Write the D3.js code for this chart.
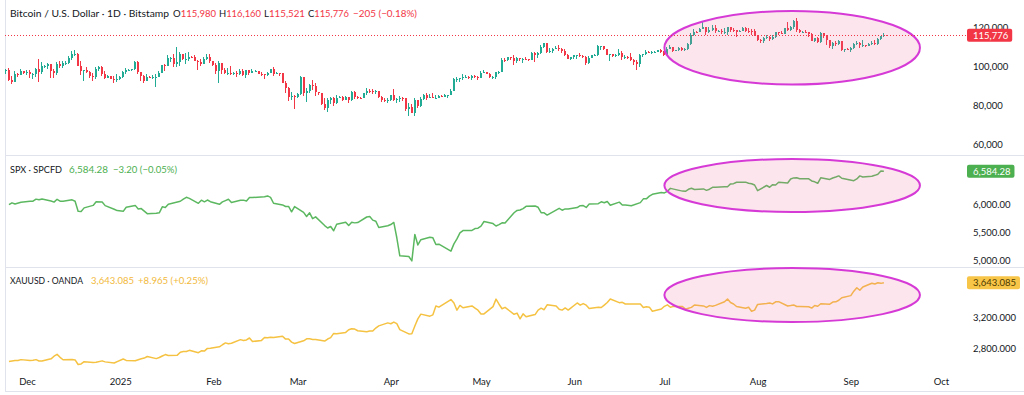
<!DOCTYPE html>
<html>
<head>
<meta charset="utf-8">
<script src="https://cdn.jsdelivr.net/npm/d3@7"></script>
<style>
  html, body { margin: 0; padding: 0; background: #fff; }
  svg { display: block; font-family: Lato, "Open Sans", sans-serif; }
</style>
</head>
<body>
<div class="chart"></div>
<script>
// DATA
// Bitcoin daily candles (thousands of USD), one per day from btcStart.
// Open of each candle is the previous close; last candle is given in full.
const btcStart = "2024-11-24";
const btcFirstOpen = 97.7;
const btcClose = [
  98.0, 93.0, 91.9, 95.9, 95.6, 97.4, 96.4,
  97.2, 95.8, 96.0, 98.8, 97.0, 99.9, 99.9, 101.1, 97.4, 96.6, 101.1, 100.0, 101.4, 101.4, 104.4, 106.1, 106.1, 100.2, 97.5, 97.8, 97.2, 95.1, 94.7, 98.6, 99.4, 95.8, 94.2, 95.1, 93.7, 92.8, 93.4,
  94.4, 96.9, 98.1, 98.2, 98.3, 102.1, 96.9, 95.0, 92.5, 94.7, 94.5, 94.5, 94.5, 96.5, 100.5, 99.9, 104.1, 104.4, 101.1, 102.0, 106.1, 103.6, 103.9, 104.8, 104.7, 102.6, 102.0, 101.3, 103.7, 104.7, 102.4,
  100.6, 97.7, 101.4, 97.8, 96.6, 96.6, 96.5, 96.5, 96.1, 97.4, 95.7, 97.8, 96.6, 97.5, 97.6, 96.1, 95.8, 95.5, 96.6, 98.3, 96.1, 96.6, 96.3, 91.4, 88.7, 84.3, 84.7, 84.4,
  86.0, 94.3, 86.1, 87.2, 90.6, 89.9, 86.7, 86.1, 80.7, 78.5, 82.9, 83.7, 81.1, 84.0, 84.4, 82.6, 84.1, 82.7, 86.9, 84.2, 84.0, 83.8, 86.1, 87.5, 87.4, 86.9, 87.2, 84.4, 82.6, 82.3, 82.5,
  85.2, 82.5, 83.1, 83.8, 83.5, 78.3, 79.2, 76.3, 82.6, 79.6, 83.4, 85.3, 83.8, 84.5, 83.7, 84.0, 84.9, 84.5, 85.1, 85.2, 87.5, 93.4, 93.7, 93.9, 94.6, 94.6, 93.8, 94.9, 94.3, 94.2,
  96.5, 96.9, 95.9, 94.3, 94.7, 96.8, 97.0, 103.2, 102.9, 104.6, 104.1, 102.8, 104.2, 103.5, 103.8, 103.5, 103.2, 106.5, 105.6, 106.8, 109.7, 111.7, 107.3, 107.8, 109.0, 109.4, 108.9, 107.8, 105.6, 103.9, 104.6,
  105.7, 105.8, 105.4, 104.7, 101.5, 104.3, 105.6, 105.7, 110.3, 110.3, 108.7, 105.9, 106.1, 105.4, 105.6, 106.8, 104.6, 104.9, 104.7, 103.3, 102.2, 100.9, 105.5, 106.0, 107.3, 106.9, 107.1, 107.4, 108.4, 107.1,
  105.7, 108.8, 109.6, 108.0, 108.2, 109.2, 108.2, 108.9, 111.3, 115.9, 117.5, 117.4, 119.1, 119.8, 117.7, 118.7, 119.3, 117.9, 117.9, 117.3, 117.4, 119.9, 118.7, 118.3, 117.6, 117.9, 119.4, 118.0, 117.9, 117.8, 115.8,
  113.3, 112.6, 114.2, 115.1, 114.1, 115.0, 117.5, 116.7, 116.5, 119.3, 118.7, 120.1, 123.3, 118.4, 117.4, 117.5, 117.4, 116.3, 112.9, 114.3, 112.5, 116.9, 115.4, 113.5, 110.1, 111.8, 111.3, 112.6, 108.4, 108.8, 108.2,
  109.2, 111.2, 111.7, 110.7, 110.7, 110.2, 111.1, 112.0, 111.5, 113.9, 115.5, 115.981
];
const btcHigh = [
  98.6, 98.9, 94.8, 97.3, 96.6, 98.7, 97.5,
  98.0, 98.2, 96.3, 99.0, 103.6, 101.9, 100.5, 101.4, 101.2, 98.3, 101.9, 102.5, 102.6, 102.7, 105.2, 107.8, 108.3, 106.5, 102.8, 98.2, 99.5, 97.4, 96.4, 99.4, 99.9, 99.9, 97.3, 95.5, 95.2, 94.9, 96.1,
  94.9, 97.7, 98.9, 98.7, 98.8, 102.5, 102.7, 97.2, 95.3, 95.8, 94.9, 95.3, 95.9, 97.4, 100.7, 100.9, 105.8, 104.9, 106.3, 109.6, 107.1, 106.3, 106.8, 107.1, 105.3, 105.5, 103.1, 103.7, 104.8, 106.4, 106.0,
  102.8, 101.5, 102.5, 101.7, 99.0, 99.2, 100.1, 96.9, 97.3, 98.3, 98.5, 98.1, 98.0, 98.8, 97.9, 97.7, 97.0, 96.0, 96.9, 98.7, 99.5, 96.9, 96.5, 96.5, 92.5, 89.3, 87.0, 85.1,
  86.5, 95.0, 94.4, 88.9, 91.0, 92.8, 91.3, 86.9, 86.5, 83.9, 83.6, 84.4, 84.3, 85.3, 84.7, 85.0, 84.8, 84.0, 87.4, 87.4, 84.8, 84.5, 86.1, 88.8, 88.5, 88.3, 87.8, 87.5, 84.6, 83.5, 83.9,
  85.5, 88.5, 83.9, 84.7, 84.2, 83.7, 81.2, 80.8, 83.5, 82.7, 84.3, 85.9, 86.1, 85.8, 86.4, 85.5, 85.5, 85.1, 85.6, 85.3, 88.5, 93.8, 94.7, 94.0, 95.8, 95.3, 95.2, 95.6, 95.5, 95.2,
  97.4, 97.9, 96.9, 96.3, 95.2, 96.9, 97.7, 104.0, 104.3, 104.9, 104.9, 105.8, 104.9, 104.3, 104.1, 104.5, 103.7, 107.1, 107.1, 107.3, 110.8, 111.9, 111.8, 109.5, 109.3, 110.4, 110.7, 109.3, 108.9, 106.3, 104.9,
  105.9, 105.9, 106.8, 105.9, 105.0, 105.3, 105.9, 106.4, 110.6, 110.4, 110.4, 108.8, 106.2, 106.2, 106.0, 108.9, 107.8, 105.6, 105.2, 106.5, 103.9, 103.0, 106.0, 106.3, 108.1, 108.0, 107.8, 107.5, 108.5, 108.8,
  107.5, 109.8, 110.6, 109.8, 108.4, 109.7, 109.7, 109.2, 111.9, 116.8, 118.9, 118.0, 119.5, 123.2, 119.9, 119.9, 120.9, 120.8, 118.6, 118.9, 119.7, 120.2, 120.1, 119.5, 118.4, 118.5, 119.8, 119.9, 119.3, 118.8, 118.9,
  116.1, 114.0, 114.8, 115.7, 115.2, 115.7, 117.7, 117.7, 117.9, 119.3, 122.3, 120.3, 123.7, 124.5, 119.2, 117.9, 118.6, 117.6, 117.0, 114.6, 114.8, 117.4, 117.0, 115.8, 113.6, 112.4, 112.6, 113.4, 112.7, 108.9, 109.5,
  109.9, 111.8, 112.6, 112.2, 113.4, 110.8, 111.6, 112.9, 113.2, 114.3, 115.6, 116.8
];
const btcLow = [
  95.8, 92.6, 90.8, 91.8, 94.7, 95.4, 96.0,
  95.7, 94.2, 93.6, 94.6, 92.1, 95.9, 99.0, 98.8, 94.2, 94.2, 95.7, 99.3, 99.2, 100.6, 101.2, 103.3, 105.3, 100.0, 95.7, 92.2, 96.4, 94.2, 92.4, 93.4, 97.6, 95.2, 93.4, 94.1, 93.3, 91.4, 92.0,
  92.8, 94.2, 96.0, 97.5, 97.3, 97.9, 96.2, 92.5, 91.2, 92.2, 93.8, 93.7, 89.2, 94.3, 96.5, 97.3, 99.9, 102.3, 99.6, 99.6, 100.1, 103.3, 101.2, 102.8, 104.1, 102.5, 97.8, 100.3, 101.3, 103.3, 101.6,
  100.3, 96.2, 91.2, 96.2, 96.2, 95.7, 95.7, 95.7, 94.7, 95.3, 94.9, 94.1, 95.3, 96.3, 97.2, 96.0, 95.2, 93.4, 95.2, 96.4, 94.9, 96.1, 95.2, 91.2, 86.1, 82.3, 82.8, 78.2,
  83.8, 85.1, 85.0, 81.5, 86.3, 87.8, 84.7, 85.3, 80.1, 77.5, 76.6, 80.7, 79.9, 80.8, 83.6, 82.0, 82.5, 81.1, 82.3, 83.2, 83.2, 83.6, 83.8, 85.5, 86.3, 85.9, 85.9, 83.6, 81.6, 81.6, 81.3,
  82.4, 82.3, 81.2, 81.7, 82.4, 77.2, 74.5, 76.2, 74.6, 78.4, 78.9, 82.8, 82.7, 83.8, 83.6, 83.1, 83.9, 84.3, 84.4, 83.9, 85.1, 87.6, 91.9, 91.7, 92.9, 93.9, 93.6, 92.9, 93.8, 92.9,
  94.1, 96.3, 95.8, 94.1, 93.5, 93.4, 95.8, 96.9, 102.3, 102.8, 103.3, 100.8, 101.4, 102.6, 101.4, 103.1, 102.6, 103.1, 102.0, 104.2, 106.1, 109.3, 106.8, 106.9, 106.6, 108.7, 107.6, 106.8, 105.4, 103.6, 103.1,
  103.8, 103.7, 104.9, 104.2, 100.4, 101.1, 104.0, 105.0, 105.3, 108.4, 108.1, 105.7, 102.8, 104.5, 104.5, 105.4, 103.4, 103.5, 103.9, 102.4, 100.8, 98.2, 99.6, 104.7, 105.9, 106.5, 106.4, 106.9, 107.2, 106.8,
  105.3, 105.7, 108.6, 107.3, 107.8, 107.8, 107.5, 107.5, 108.4, 110.6, 115.3, 116.9, 117.3, 118.9, 115.7, 117.0, 117.9, 116.8, 117.3, 116.5, 116.5, 116.1, 117.4, 117.2, 114.7, 117.4, 117.8, 117.5, 116.9, 115.8, 115.6,
  112.7, 112.0, 112.0, 114.0, 112.7, 113.4, 114.3, 115.9, 116.3, 116.5, 118.1, 118.2, 118.9, 117.2, 116.8, 117.2, 117.3, 114.7, 112.7, 112.4, 111.9, 111.7, 114.6, 110.6, 109.3, 108.7, 110.4, 110.9, 107.5, 107.4, 108.1,
  107.3, 108.6, 110.6, 109.3, 110.0, 109.9, 110.2, 110.6, 110.8, 110.9, 113.4, 114.8
];
// last (live) candle: open, high, low, close
const btcLast = [115.980, 116.160, 115.521, 115.776];

// S&P 500 CFD daily closes
const spx = [
  ["2024-11-25", 5987], ["2024-11-26", 6021], ["2024-11-27", 5999], ["2024-11-29", 6032],
  ["2024-12-02", 6047], ["2024-12-03", 6050], ["2024-12-04", 6087], ["2024-12-05", 6075], ["2024-12-06", 6090],
  ["2024-12-09", 6053], ["2024-12-10", 6034], ["2024-12-11", 6084], ["2024-12-12", 6051], ["2024-12-13", 6051],
  ["2024-12-16", 6074], ["2024-12-17", 6050], ["2024-12-18", 5872], ["2024-12-19", 5867], ["2024-12-20", 5931],
  ["2024-12-23", 5975], ["2024-12-24", 6040], ["2024-12-26", 6037], ["2024-12-27", 5971], ["2024-12-30", 5907], ["2024-12-31", 5882],
  ["2025-01-02", 5869], ["2025-01-03", 5942], ["2025-01-06", 5975], ["2025-01-07", 5909], ["2025-01-08", 5918], ["2025-01-10", 5827],
  ["2025-01-13", 5836], ["2025-01-14", 5843], ["2025-01-15", 5950], ["2025-01-16", 5937], ["2025-01-17", 5997],
  ["2025-01-21", 6049], ["2025-01-22", 6086], ["2025-01-23", 6119], ["2025-01-24", 6101],
  ["2025-01-27", 6012], ["2025-01-28", 6068], ["2025-01-29", 6039], ["2025-01-30", 6071], ["2025-01-31", 6041],
  ["2025-02-03", 5994], ["2025-02-04", 6037], ["2025-02-05", 6061], ["2025-02-06", 6084], ["2025-02-07", 6026],
  ["2025-02-10", 6066], ["2025-02-11", 6069], ["2025-02-12", 6052], ["2025-02-13", 6115], ["2025-02-14", 6115],
  ["2025-02-18", 6129], ["2025-02-19", 6144], ["2025-02-20", 6118], ["2025-02-21", 6013],
  ["2025-02-24", 5983], ["2025-02-25", 5955], ["2025-02-26", 5956], ["2025-02-27", 5861], ["2025-02-28", 5955],
  ["2025-03-03", 5850], ["2025-03-04", 5778], ["2025-03-05", 5843], ["2025-03-06", 5739], ["2025-03-07", 5770],
  ["2025-03-10", 5615], ["2025-03-11", 5572], ["2025-03-12", 5599], ["2025-03-13", 5522], ["2025-03-14", 5639],
  ["2025-03-17", 5675], ["2025-03-18", 5615], ["2025-03-19", 5675], ["2025-03-20", 5663], ["2025-03-21", 5668],
  ["2025-03-24", 5768], ["2025-03-25", 5777], ["2025-03-26", 5712], ["2025-03-27", 5693], ["2025-03-28", 5581], ["2025-03-31", 5612],
  ["2025-04-01", 5633], ["2025-04-02", 5671], ["2025-04-03", 5397], ["2025-04-04", 5074],
  ["2025-04-07", 5062], ["2025-04-08", 4983], ["2025-04-09", 5457], ["2025-04-10", 5268], ["2025-04-11", 5363],
  ["2025-04-14", 5406], ["2025-04-15", 5396], ["2025-04-16", 5276], ["2025-04-17", 5283],
  ["2025-04-21", 5158], ["2025-04-22", 5288], ["2025-04-23", 5376], ["2025-04-24", 5485], ["2025-04-25", 5525],
  ["2025-04-28", 5529], ["2025-04-29", 5561], ["2025-04-30", 5569], ["2025-05-01", 5604], ["2025-05-02", 5687],
  ["2025-05-05", 5650], ["2025-05-06", 5607], ["2025-05-07", 5631], ["2025-05-08", 5664], ["2025-05-09", 5660],
  ["2025-05-12", 5844], ["2025-05-13", 5886], ["2025-05-14", 5892], ["2025-05-15", 5917], ["2025-05-16", 5958],
  ["2025-05-19", 5964], ["2025-05-20", 5941], ["2025-05-21", 5845], ["2025-05-22", 5842], ["2025-05-23", 5803],
  ["2025-05-27", 5922], ["2025-05-28", 5889], ["2025-05-29", 5912], ["2025-05-30", 5912],
  ["2025-06-02", 5936], ["2025-06-03", 5970], ["2025-06-04", 5971], ["2025-06-05", 5939], ["2025-06-06", 6000],
  ["2025-06-09", 6006], ["2025-06-10", 6039], ["2025-06-11", 6022], ["2025-06-12", 6045], ["2025-06-13", 5977],
  ["2025-06-16", 6033], ["2025-06-17", 5983], ["2025-06-18", 5981], ["2025-06-20", 5968],
  ["2025-06-23", 6025], ["2025-06-24", 6092], ["2025-06-25", 6092], ["2025-06-26", 6141], ["2025-06-27", 6173], ["2025-06-30", 6205],
  ["2025-07-01", 6198], ["2025-07-02", 6227], ["2025-07-03", 6279],
  ["2025-07-07", 6230], ["2025-07-08", 6226], ["2025-07-09", 6263], ["2025-07-10", 6280], ["2025-07-11", 6260],
  ["2025-07-14", 6269], ["2025-07-15", 6244], ["2025-07-16", 6264], ["2025-07-17", 6297], ["2025-07-18", 6297],
  ["2025-07-21", 6306], ["2025-07-22", 6309], ["2025-07-23", 6359], ["2025-07-24", 6363], ["2025-07-25", 6389],
  ["2025-07-28", 6390], ["2025-07-29", 6371], ["2025-07-30", 6362], ["2025-07-31", 6339], ["2025-08-01", 6238],
  ["2025-08-04", 6330], ["2025-08-05", 6299], ["2025-08-06", 6345], ["2025-08-07", 6340], ["2025-08-08", 6389],
  ["2025-08-11", 6374], ["2025-08-12", 6446], ["2025-08-13", 6466], ["2025-08-14", 6469], ["2025-08-15", 6450],
  ["2025-08-18", 6449], ["2025-08-19", 6411], ["2025-08-20", 6396], ["2025-08-21", 6370], ["2025-08-22", 6467],
  ["2025-08-25", 6439], ["2025-08-26", 6465], ["2025-08-27", 6481], ["2025-08-28", 6502], ["2025-08-29", 6460],
  ["2025-09-02", 6416], ["2025-09-03", 6448], ["2025-09-04", 6502], ["2025-09-05", 6482],
  ["2025-09-08", 6495], ["2025-09-09", 6512], ["2025-09-10", 6532], ["2025-09-11", 6587.48], ["2025-09-12", 6584.28]
];

// Gold spot (XAUUSD) daily closes
const xau = [
  ["2024-11-25", 2625], ["2024-11-26", 2633], ["2024-11-27", 2638], ["2024-11-28", 2640], ["2024-11-29", 2650],
  ["2024-12-02", 2640], ["2024-12-03", 2643], ["2024-12-04", 2650], ["2024-12-05", 2632], ["2024-12-06", 2633],
  ["2024-12-09", 2660], ["2024-12-10", 2694], ["2024-12-11", 2718], ["2024-12-12", 2680], ["2024-12-13", 2648],
  ["2024-12-16", 2652], ["2024-12-17", 2646], ["2024-12-18", 2587], ["2024-12-19", 2594], ["2024-12-20", 2623],
  ["2024-12-23", 2612], ["2024-12-24", 2617], ["2024-12-26", 2634], ["2024-12-27", 2621], ["2024-12-30", 2606], ["2024-12-31", 2624],
  ["2025-01-02", 2658], ["2025-01-03", 2640], ["2025-01-06", 2635], ["2025-01-07", 2648], ["2025-01-08", 2661], ["2025-01-09", 2670], ["2025-01-10", 2690],
  ["2025-01-13", 2663], ["2025-01-14", 2677], ["2025-01-15", 2697], ["2025-01-16", 2715], ["2025-01-17", 2703],
  ["2025-01-20", 2708], ["2025-01-21", 2745], ["2025-01-22", 2755], ["2025-01-23", 2755], ["2025-01-24", 2770],
  ["2025-01-27", 2740], ["2025-01-28", 2763], ["2025-01-29", 2760], ["2025-01-30", 2795], ["2025-01-31", 2798],
  ["2025-02-03", 2815], ["2025-02-04", 2842], ["2025-02-05", 2866], ["2025-02-06", 2856], ["2025-02-07", 2861],
  ["2025-02-10", 2908], ["2025-02-11", 2898], ["2025-02-12", 2904], ["2025-02-13", 2929], ["2025-02-14", 2883],
  ["2025-02-17", 2898], ["2025-02-18", 2935], ["2025-02-19", 2933], ["2025-02-20", 2939], ["2025-02-21", 2936],
  ["2025-02-24", 2951], ["2025-02-25", 2915], ["2025-02-26", 2916], ["2025-02-27", 2876], ["2025-02-28", 2858],
  ["2025-03-03", 2893], ["2025-03-04", 2918], ["2025-03-05", 2920], ["2025-03-06", 2911], ["2025-03-07", 2910],
  ["2025-03-10", 2889], ["2025-03-11", 2916], ["2025-03-12", 2934], ["2025-03-13", 2988], ["2025-03-14", 2984],
  ["2025-03-17", 3001], ["2025-03-18", 3035], ["2025-03-19", 3048], ["2025-03-20", 3044], ["2025-03-21", 3023],
  ["2025-03-24", 3011], ["2025-03-25", 3020], ["2025-03-26", 3019], ["2025-03-27", 3057], ["2025-03-28", 3085], ["2025-03-31", 3124],
  ["2025-04-01", 3113], ["2025-04-02", 3134], ["2025-04-03", 3114], ["2025-04-04", 3038],
  ["2025-04-07", 2982], ["2025-04-08", 2983], ["2025-04-09", 3083], ["2025-04-10", 3176], ["2025-04-11", 3237],
  ["2025-04-14", 3211], ["2025-04-15", 3228], ["2025-04-16", 3342], ["2025-04-17", 3327],
  ["2025-04-21", 3425], ["2025-04-22", 3381], ["2025-04-23", 3288], ["2025-04-24", 3349], ["2025-04-25", 3319],
  ["2025-04-28", 3343], ["2025-04-29", 3316], ["2025-04-30", 3288], ["2025-05-01", 3239], ["2025-05-02", 3240],
  ["2025-05-05", 3334], ["2025-05-06", 3431], ["2025-05-07", 3365], ["2025-05-08", 3306], ["2025-05-09", 3325],
  ["2025-05-12", 3235], ["2025-05-13", 3250], ["2025-05-14", 3177], ["2025-05-15", 3240], ["2025-05-16", 3203],
  ["2025-05-19", 3231], ["2025-05-20", 3289], ["2025-05-21", 3314], ["2025-05-22", 3294], ["2025-05-23", 3357],
  ["2025-05-26", 3342], ["2025-05-27", 3301], ["2025-05-28", 3289], ["2025-05-29", 3317], ["2025-05-30", 3289],
  ["2025-06-02", 3381], ["2025-06-03", 3353], ["2025-06-04", 3373], ["2025-06-05", 3353], ["2025-06-06", 3311],
  ["2025-06-09", 3326], ["2025-06-10", 3322], ["2025-06-11", 3354], ["2025-06-12", 3387], ["2025-06-13", 3432],
  ["2025-06-16", 3385], ["2025-06-17", 3389], ["2025-06-18", 3368], ["2025-06-19", 3369], ["2025-06-20", 3368],
  ["2025-06-23", 3368], ["2025-06-24", 3323], ["2025-06-25", 3332], ["2025-06-26", 3327], ["2025-06-27", 3274], ["2025-06-30", 3303],
  ["2025-07-01", 3338], ["2025-07-02", 3357], ["2025-07-03", 3326], ["2025-07-04", 3337],
  ["2025-07-07", 3336], ["2025-07-08", 3301], ["2025-07-09", 3313], ["2025-07-10", 3324], ["2025-07-11", 3355],
  ["2025-07-14", 3343], ["2025-07-15", 3324], ["2025-07-16", 3347], ["2025-07-17", 3338], ["2025-07-18", 3350],
  ["2025-07-21", 3397], ["2025-07-22", 3431], ["2025-07-23", 3387], ["2025-07-24", 3368], ["2025-07-25", 3336],
  ["2025-07-28", 3314], ["2025-07-29", 3326], ["2025-07-30", 3275], ["2025-07-31", 3289], ["2025-08-01", 3362],
  ["2025-08-04", 3373], ["2025-08-05", 3381], ["2025-08-06", 3369], ["2025-08-07", 3396], ["2025-08-08", 3398],
  ["2025-08-11", 3342], ["2025-08-12", 3348], ["2025-08-13", 3356], ["2025-08-14", 3336], ["2025-08-15", 3336],
  ["2025-08-18", 3332], ["2025-08-19", 3315], ["2025-08-20", 3348], ["2025-08-21", 3339], ["2025-08-22", 3371],
  ["2025-08-25", 3365], ["2025-08-26", 3393], ["2025-08-27", 3396], ["2025-08-28", 3416], ["2025-08-29", 3448],
  ["2025-09-01", 3476], ["2025-09-02", 3533], ["2025-09-03", 3578], ["2025-09-04", 3545], ["2025-09-05", 3587],
  ["2025-09-08", 3636], ["2025-09-09", 3626], ["2025-09-10", 3641], ["2025-09-11", 3634.12], ["2025-09-12", 3643.085]
];

// Axis ticks
const monthTicks = ["2024-12-01", "2025-01-01", "2025-02-01", "2025-03-01", "2025-04-01", "2025-05-01",
  "2025-06-01", "2025-07-01", "2025-08-01", "2025-09-01", "2025-10-01"];
const monthLabels = ["Dec", "2025", "Feb", "Mar", "Apr", "May", "Jun", "Jul", "Aug", "Sep", "Oct"];
const btcTicks = [60, 80, 100, 120];
const spxTicks = [5000, 5500, 6000];
const xauTicks = [2800, 3200];

// Highlight ellipses: date span and value span per pane
const highlightDates = ["2025-07-01", "2025-09-24"];
const btcHighlight = [90.6, 128.2];
const spxHighlight = [5857, 6804];
const xauHighlight = [3135, 3832];


// SETUP
const width = 1024, height = 395;
const plotLeft = 5, plotRight = 967;
const colors = {
  up: '#22ab94', down: '#f23645', spx: '#5cb860', xau: '#f5c242',
  ring: '#d63ad6', ringFill: '#f06292', border: '#e0e3eb', text: '#131722'
};
// legend layout: [left, width] of each text run, per pane
const legendLayout = {
  btc: [[10, 159], [173, 43], [219, 42], [264, 41], [308, 41], [353, 64]],
  spx: [[10, 52], [69, 39], [113, 64]],
  xau: [[10, 73], [91, 43], [138, 70]]
};
const parse = d3.utcParse('%Y-%m-%d');

const svg = d3.select('.chart')
  .append('svg')
  .attr('width', width)
  .attr('height', height);

const x = d3.scaleUtc()
  .domain([parse('2024-12-01'), parse('2025-10-01')])
  .range([27, 941]);

const yBtc = d3.scaleLinear().domain([60, 120]).range([144.5, 27]);
const ySpx = d3.scaleLinear().domain([5000, 6000]).range([260, 204]);
const yXau = d3.scaleLinear().domain([2800, 3200]).range([348, 317]);

drawFrame();
drawCandles();
drawLine(spx, ySpx, colors.spx);
drawLine(xau, yXau, colors.xau);
drawHighlight(yBtc, btcHighlight);
drawHighlight(ySpx, spxHighlight);
drawHighlight(yXau, xauHighlight);
drawPriceLine();
drawPriceAxis(yBtc, btcTicks, v => d3.format(',')(v * 1000));
drawPriceAxis(ySpx, spxTicks, d3.format(',.2f'));
drawPriceAxis(yXau, xauTicks, d3.format(',.3f'));
drawTimeAxis();
drawLastLabels();
drawLegends();


// FRAME
function drawFrame() {
  const g = svg.append('g').attr('class', 'frame')
    .attr('stroke', colors.border).attr('shape-rendering', 'crispEdges');
  g.append('line').attr('x1', plotLeft + 0.5).attr('x2', plotLeft + 0.5).attr('y1', 0).attr('y2', 392);
  [155.5, 267.5].forEach(yy => {
    g.append('line').attr('x1', plotLeft).attr('x2', width).attr('y1', yy).attr('y2', yy);
  });
  g.append('line').attr('x1', plotLeft).attr('x2', width).attr('y1', 391.5).attr('y2', 391.5);
}

// CANDLES
function btcCandles() {
  const start = parse(btcStart);
  const rows = btcClose.map((c, i) => {
    const o = i ? btcClose[i - 1] : btcFirstOpen;
    return { date: d3.utcDay.offset(start, i), o, c,
      h: Math.max(btcHigh[i], o, c), l: Math.min(btcLow[i], o, c) };
  });
  const [o, h, l, c] = btcLast;
  rows.push({ date: d3.utcDay.offset(start, btcClose.length), o, h, l, c });
  return rows;
}

function drawCandles() {
  const g = svg.append('g').attr('class', 'candles').attr('shape-rendering', 'crispEdges');
  const candle = g.selectAll('g')
    .data(btcCandles())
    .enter()
    .append('g')
    .attr('fill', d => d.c >= d.o ? colors.up : colors.down);

  candle.append('rect')
    .attr('x', d => Math.round(x(d.date)) - 1)
    .attr('width', 1)
    .attr('y', d => Math.round(yBtc(d.h)))
    .attr('height', d => Math.max(1, Math.round(yBtc(d.l)) - Math.round(yBtc(d.h))));

  candle.append('rect')
    .attr('x', d => Math.round(x(d.date)) - 1)
    .attr('width', 2)
    .attr('y', d => Math.round(yBtc(Math.max(d.o, d.c))))
    .attr('height', d => Math.max(1, Math.round(yBtc(Math.min(d.o, d.c))) - Math.round(yBtc(Math.max(d.o, d.c)))));
}

// LINES
function drawLine(series, y, color) {
  const line = d3.line()
    .x(d => x(parse(d[0])))
    .y(d => y(d[1]));
  svg.append('path')
    .datum(series)
    .attr('d', line)
    .attr('fill', 'none')
    .attr('stroke', color)
    .attr('stroke-width', 1.5)
    .attr('stroke-linejoin', 'round');
}

// ANNOTATIONS
function drawHighlight(y, span) {
  const x0 = x(parse(highlightDates[0])), x1 = x(parse(highlightDates[1]));
  const y0 = y(span[0]), y1 = y(span[1]);
  svg.append('ellipse')
    .attr('cx', (x0 + x1) / 2)
    .attr('cy', (y0 + y1) / 2)
    .attr('rx', (x1 - x0) / 2)
    .attr('ry', Math.abs(y0 - y1) / 2)
    .attr('fill', colors.ringFill)
    .attr('fill-opacity', 0.17)
    .attr('stroke', colors.ring)
    .attr('stroke-width', 2);
}

function drawPriceLine() {
  const yy = Math.round(yBtc(btcLast[3])) + 0.5;
  svg.append('line')
    .attr('x1', plotLeft).attr('x2', plotRight)
    .attr('y1', yy).attr('y2', yy)
    .attr('stroke', colors.down)
    .attr('stroke-width', 1)
    .attr('stroke-dasharray', '1,2');
}

// AXES
function drawPriceAxis(y, ticks, fmt) {
  const axis = svg.append('g')
    .attr('transform', `translate(${plotRight},0)`)
    .call(d3.axisRight(y).tickValues(ticks).tickFormat(fmt).tickSize(0).tickPadding(6));
  axis.select('.domain').remove();
  axis.selectAll('text')
    .attr('fill', colors.text)
    .style('font-size', '9.5px')
    .style('font-family', 'Lato, sans-serif');
}

function drawTimeAxis() {
  const axis = svg.append('g')
    .attr('transform', 'translate(0,370)')
    .call(d3.axisBottom(x)
      .tickValues(monthTicks.map(parse))
      .tickFormat((d, i) => monthLabels[i])
      .tickSize(0).tickPadding(8));
  axis.select('.domain').remove();
  axis.selectAll('text')
    .attr('fill', colors.text)
    .style('font-size', '9.5px')
    .style('font-family', 'Lato, sans-serif');
}

function drawLastLabels() {
  const last = [
    { v: btcLast[3], y: yBtc, text: d3.format(',')(Math.round(btcLast[3] * 1000)), fill: colors.down, ink: '#fff' },
    { v: spx[spx.length - 1][1], y: ySpx, text: d3.format(',.2f')(spx[spx.length - 1][1]), fill: '#4caf50', ink: '#fff' },
    { v: xau[xau.length - 1][1], y: yXau, text: d3.format(',.3f')(xau[xau.length - 1][1]), fill: '#f7c548', ink: '#4d3a00' }
  ];
  const g = svg.append('g').attr('class', 'last-labels');
  last.forEach(d => {
    const yy = d.y(d.v);
    const box = g.append('g');
    const t = box.append('text')
      .attr('x', plotRight + 6)
      .attr('y', yy)
      .attr('dy', '0.34em')
      .attr('fill', d.ink)
      .style('font-size', '9.5px')
      .text(d.text);
    const w = t.node().getComputedTextLength();
    box.insert('rect', 'text')
      .attr('x', plotRight)
      .attr('y', yy - 6.5)
      .attr('width', w + 10)
      .attr('height', 13)
      .attr('rx', 2)
      .attr('fill', d.fill);
  });
}

// LEGENDS
function changeText(prev, cur, digits) {
  const diff = cur - prev;
  const sign = diff >= 0 ? '+' : '\u2212';
  const abs = d3.format(`,.${digits}f`)(Math.abs(diff));
  const pct = d3.format('.2f')(Math.abs(diff / prev * 100));
  return `${sign}${abs} (${sign}${pct}%)`;
}

// each run: [text, colour] or [[prefix, prefixColour], [text, colour]]
function legendRow(y, runs, layout) {
  const g = svg.append('g').attr('class', 'legend').style('font-size', '10px');
  runs.forEach((run, i) => {
    const [left, w] = layout[i];
    const t = g.append('text')
      .attr('x', left)
      .attr('y', y)
      .attr('textLength', w)
      .attr('lengthAdjust', 'spacingAndGlyphs');
    const parts = Array.isArray(run[0]) ? run : [run];
    parts.forEach(([txt, col]) => t.append('tspan').attr('fill', col).text(txt));
  });
}

function drawLegends() {
  const fmtK = v => d3.format(',')(Math.round(v * 1000));
  const [o, h, l, c] = btcLast;
  const prev = btcClose[btcClose.length - 1];

  legendRow(17, [
    ['Bitcoin / U.S. Dollar \u00b7 1D \u00b7 Bitstamp', colors.text],
    [['O', colors.text], [fmtK(o), colors.down]],
    [['H', colors.text], [fmtK(h), colors.down]],
    [['L', colors.text], [fmtK(l), colors.down]],
    [['C', colors.text], [fmtK(c), colors.down]],
    [changeText(prev * 1000, c * 1000, 0), colors.down]
  ], legendLayout.btc);

  const n = spx.length, m = xau.length;
  legendRow(173, [
    ['SPX \u00b7 SPCFD', colors.text],
    [d3.format(',.2f')(spx[n - 1][1]), '#4caf50'],
    [changeText(spx[n - 2][1], spx[n - 1][1], 2), '#4caf50']
  ], legendLayout.spx);

  legendRow(284, [
    ['XAUUSD \u00b7 OANDA', colors.text],
    [d3.format(',.3f')(xau[m - 1][1]), '#f2b93b'],
    [changeText(xau[m - 2][1], xau[m - 1][1], 3), '#f2b93b']
  ], legendLayout.xau);
}
</script>
</body>
</html>
